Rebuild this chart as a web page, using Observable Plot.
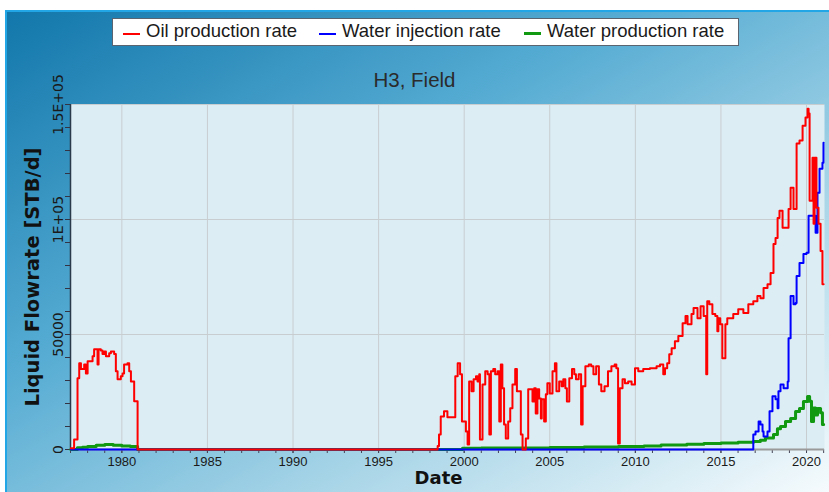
<!DOCTYPE html>
<html>
<head>
<meta charset="utf-8">
<script src="https://cdn.jsdelivr.net/npm/d3@7"></script>
<script src="https://cdn.jsdelivr.net/npm/@observablehq/plot@0.6"></script>
<style>
  html, body { margin: 0; padding: 0; background: #fff; }
  #wrap { position: relative; width: 829px; height: 492px; overflow: hidden; background: #fff; font-family: "Liberation Sans", Arial, sans-serif; }
  #bg { position: absolute; left: 5px; top: 10px; right: 0; bottom: 0;
        border-left: 2px solid #22a6e6; border-top: 2px solid #22a6e6;
        background: linear-gradient(to bottom right, #1277ab 0%, #56acd3 38%, #a6d4e7 68%, #f6fbfd 100%); }
  #legend { position: absolute; left: 112px; top: 18px; width: 625px; height: 26px; background: #fff; border: 1px solid #5a6470; }
  #legend .mk { position: absolute; top: 14px; width: 17px; height: 2px; }
  #legend .tx { position: absolute; top: 1px; font-size: 18.5px; color: #1a1a1a; line-height: 22px; white-space: nowrap; }
  #title { position: absolute; left: 0; width: 829px; top: 68px; text-align: center; font-size: 20.5px; color: #2b2b2b; }
  #chart { position: absolute; left: 0; top: 0; }
</style>
</head>
<body>
<div id="wrap">
  <div id="bg"></div>
  <div id="legend"></div>
  <div id="title"></div>
  <div id="chart"></div>
</div>
<script>
// ---------------- data ----------------
const titleText = "H3, Field";
const xLabel = "Date";
const yLabel = "Liquid Flowrate [STB/d]";
const seriesNames = ["Oil production rate", "Water injection rate", "Water production rate"];
const seriesColors = ["#ff0000", "#0000ff", "#119911"];

const xTickYears = [1980, 1985, 1990, 1995, 2000, 2005, 2010, 2015, 2020];
const yTickValues = [0, 50000, 100000, 150000];
const yTickLabels = ["0", "50000", "1E+05", "1.5E+05"];

// Oil production rate (date in decimal years, STB/d)
const oilDate = [1977.02, 1977.21, 1977.41, 1977.51, 1977.61, 1977.80, 1977.90, 1978.00, 1978.29, 1978.38,
  1978.58, 1978.64, 1978.77, 1978.87, 1978.97, 1979.07, 1979.26, 1979.36, 1979.55, 1979.65,
  1979.75, 1979.94, 1980.04, 1980.13, 1980.33, 1980.43, 1980.53, 1980.72, 1980.92,
  1998.45, 1998.53, 1998.63, 1998.82, 1999.02, 1999.48, 1999.62, 1999.76, 1999.87, 2000.10, 2000.20,
  2000.29, 2000.43, 2000.55, 2000.69, 2000.78, 2000.88, 2000.92, 2001.07, 2001.23, 2001.37,
  2001.47, 2001.56, 2001.70, 2001.81, 2001.95, 2002.05, 2002.14, 2002.23, 2002.33, 2002.43,
  2002.57, 2002.69, 2002.82, 2002.98, 2003.08, 2003.22, 2003.31, 2003.41, 2003.60, 2003.74,
  2003.90, 2003.99, 2004.09, 2004.18, 2004.28, 2004.38, 2004.48, 2004.53, 2004.67, 2004.77,
  2004.86, 2005.00, 2005.16, 2005.30, 2005.39, 2005.55, 2005.69, 2005.79, 2005.91, 2006.00,
  2006.14, 2006.30, 2006.43, 2006.53, 2006.69, 2006.83, 2006.92, 2007.08, 2007.28, 2007.42,
  2007.55, 2007.71, 2007.87, 2008.01, 2008.20, 2008.40, 2008.60, 2008.79, 2008.89, 2008.99,
  2009.09, 2009.25, 2009.39, 2009.58, 2009.78, 2009.98, 2010.17, 2010.46, 2010.85, 2011.24,
  2011.44, 2011.63, 2011.73, 2011.86, 2011.98, 2012.12, 2012.31, 2012.51, 2012.76, 2012.93,
  2013.05, 2013.28, 2013.40, 2013.63, 2013.81, 2013.99, 2014.14, 2014.20, 2014.32, 2014.50,
  2014.67, 2014.79, 2014.85, 2014.96, 2015.08, 2015.26, 2015.37, 2015.55, 2015.72, 2016.01,
  2016.31, 2016.60, 2016.89, 2017.13, 2017.31, 2017.49, 2017.72, 2017.90, 2018.07, 2018.19,
  2018.31, 2018.42, 2018.60, 2018.95, 2019.07, 2019.24, 2019.42, 2019.59, 2019.77, 2019.94,
  2020.06, 2020.12, 2020.18, 2020.35, 2020.41, 2020.47, 2020.58, 2020.70, 2020.82, 2020.93, 2021.00];
const oilRate = [500, 4300, 31000, 37500, 35000, 37000, 33000, 38400, 40500, 43600,
  37000, 43600, 43000, 41500, 42600, 40500, 41800, 42600, 41500, 34000,
  30500, 31800, 33000, 37000, 37500, 34000, 29600, 21000, 0,
  1500, 6500, 14400, 16600, 14000, 31800, 37500, 32700, 12200, 7800, 2200,
  29600, 25300, 30500, 31800, 29600, 32700, 4300, 28300, 34000, 32700,
  6500, 34000, 35000, 32700, 34000, 12200, 37000, 26600, 10900, 4800,
  12200, 17900, 28300, 35000, 25300, 25300, 6500, 0, 4800, 26200,
  26200, 20900, 26600, 15700, 26200, 22200, 13500, 21800, 12200, 24000,
  28800, 24400, 34000, 37500, 25300, 29600, 27500, 30500, 26600, 20900,
  31000, 35000, 32700, 30500, 32700, 10900, 27500, 36200, 37000, 36200,
  32700, 36200, 28300, 25300, 27500, 34000, 36200, 37000, 35300, 2600,
  26600, 30500, 28800, 29600, 28300, 35300, 34000, 35000, 35300, 36200,
  37000, 32700, 35300, 37500, 41400, 44000, 47100, 49300, 54900, 58000,
  54500, 58900, 61500, 57100, 62300, 58000, 32700, 64500, 63200, 58900,
  58000, 51400, 57100, 54500, 39700, 54500, 57100, 57100, 58900, 61000,
  59300, 63200, 64500, 66700, 65800, 70200, 71900, 76700, 89400, 92000,
  100700, 103800, 96400, 104600, 113800, 104600, 133000, 134300, 140800, 144300,
  148200, 146100, 108100, 126900, 98100, 126900, 105100, 98100, 86300, 71900, 71900];

// Water injection rate
const injDate = [1977.02, 2016.89, 2017.02, 2017.20, 2017.31, 2017.43, 2017.49, 2017.72, 2017.84, 2018.01,
  2018.19, 2018.31, 2018.36, 2018.48, 2018.66, 2018.90, 2018.95, 2019.07, 2019.24, 2019.36,
  2019.42, 2019.59, 2019.82, 2020.00, 2020.12, 2020.35, 2020.53, 2020.64, 2020.76, 2020.93, 2020.99, 2021.00];
const injRate = [0, 6500, 7800, 12200, 10900, 7800, 5700, 7800, 16600, 23100,
  21800, 17900, 25300, 28300, 26600, 29600, 48400, 66700, 63200, 63700,
  75400, 81100, 85000, 85500, 101600, 101600, 94200, 111600, 122100, 124700, 133400, 133400];

// Water production rate
const wprDate = [1977.02, 1977.40, 1977.70, 1978.00, 1978.50, 1979.00, 1979.50, 1980.00, 1980.50, 1980.92,
  1999.90, 2001.00, 2003.00, 2005.00, 2007.00, 2009.00, 2010.50, 2011.50, 2013.00, 2014.00,
  2015.00, 2016.00, 2016.90, 2017.30, 2017.60, 2018.07, 2018.30, 2018.48, 2018.77, 2019.07,
  2019.36, 2019.59, 2019.82, 2020.06, 2020.18, 2020.29, 2020.41, 2020.53, 2020.64, 2020.82, 2020.93, 2021.00];
const wprRate = [0, 800, 1000, 1300, 1800, 2200, 1800, 1500, 1300, 0,
  500, 600, 700, 900, 1100, 1300, 1500, 2000, 2300, 2600,
  2800, 3200, 3500, 4000, 5000, 6500, 9000, 10000, 12200, 13500,
  16500, 17800, 20900, 23000, 21000, 12200, 18000, 15000, 17800, 16000, 10900, 10900];

const xDomain = [1977.0, 2021.05];
const yDomain = [0, 150000];

// ---------------- build ----------------
const toRows = (dates, rates, name) => dates.map((d, i) => ({date: d, rate: rates[i], series: name}));
const oilRows = toRows(oilDate, oilRate, seriesNames[0]);
const injRows = toRows(injDate, injRate, seriesNames[1]);
const wprRows = toRows(wprDate, wprRate, seriesNames[2]);

document.getElementById("title").textContent = titleText;

// legend
const legend = document.getElementById("legend");
const legendX = [[10, 33], [206, 229], [411, 434]];
seriesNames.forEach((n, i) => {
  const mk = document.createElement("div");
  mk.className = "mk";
  mk.style.left = legendX[i][0] + "px";
  mk.style.background = seriesColors[i];
  if (i === 2) { mk.style.height = "3px"; mk.style.top = "13px"; }
  legend.appendChild(mk);
  const tx = document.createElement("div");
  tx.className = "tx";
  tx.style.left = legendX[i][1] + "px";
  tx.textContent = n;
  legend.appendChild(tx);
});

const font = "'Liberation Sans', Arial, sans-serif";
const plot = Plot.plot({
  width: 829,
  height: 492,
  marginLeft: 70,
  marginRight: 5,
  marginTop: 104,
  marginBottom: 43,
  style: {background: "transparent", fontFamily: font, overflow: "visible", color: "#222"},
  x: {type: "linear", domain: xDomain, axis: null},
  y: {type: "linear", domain: yDomain, axis: null},
  marks: [
    Plot.frame({fill: "#dcedf4", stroke: null}),
    Plot.gridX({ticks: xTickYears, stroke: "#c8cdd0", strokeOpacity: 1, strokeWidth: 1}),
    Plot.gridY({ticks: yTickValues, stroke: "#c8cdd0", strokeOpacity: 1, strokeWidth: 1}),
    Plot.axisX({ticks: d3.range(1977, 2022), tickSize: 4, tickFormat: () => "", stroke: "#445", label: null}),
    Plot.axisX({ticks: xTickYears, tickSize: 4, tickPadding: 3, tickFormat: d => String(d), fontSize: 13, fill: "#1a1a1a", stroke: "#445", label: null}),
    Plot.axisY({ticks: d3.range(0, 150001, 10000), tickSize: 5, tickFormat: () => "", stroke: "#334", label: null}),
    Plot.text(yTickValues, {y: d => d, text: (d, i) => yTickLabels[i], frameAnchor: "left", dx: -8, rotate: -90,
      textAnchor: "middle", lineAnchor: "bottom", fontSize: 14, fill: "#1a1a1a", fontFamily: "DejaVu Sans"}),
    Plot.ruleY([0], {stroke: "#9a9a9a", strokeWidth: 2}),
    Plot.ruleX([xDomain[0]], {stroke: "#2a3a4a", strokeWidth: 1.5}),
    Plot.line(wprRows, {x: "date", y: "rate", stroke: seriesColors[2], strokeWidth: 3, curve: "step-after"}),
    Plot.line(injRows, {x: "date", y: "rate", stroke: seriesColors[1], strokeWidth: 2, curve: "step-after"}),
    Plot.line(oilRows, {x: "date", y: "rate", stroke: seriesColors[0], strokeWidth: 2, curve: "step-after"}),
    Plot.text([xLabel], {frameAnchor: "bottom", dx: -9, dy: 34, text: d => d, fontSize: 18, fontWeight: "bold", fill: "#111", fontFamily: "DejaVu Sans"}),
    Plot.text([yLabel], {frameAnchor: "left", dx: -38, rotate: -90, textAnchor: "middle", lineAnchor: "middle", text: d => d, fontSize: 19.5, fontWeight: "bold", fill: "#111", fontFamily: "DejaVu Sans"})
  ]
});
document.getElementById("chart").appendChild(plot);
</script>
</body>
</html>
